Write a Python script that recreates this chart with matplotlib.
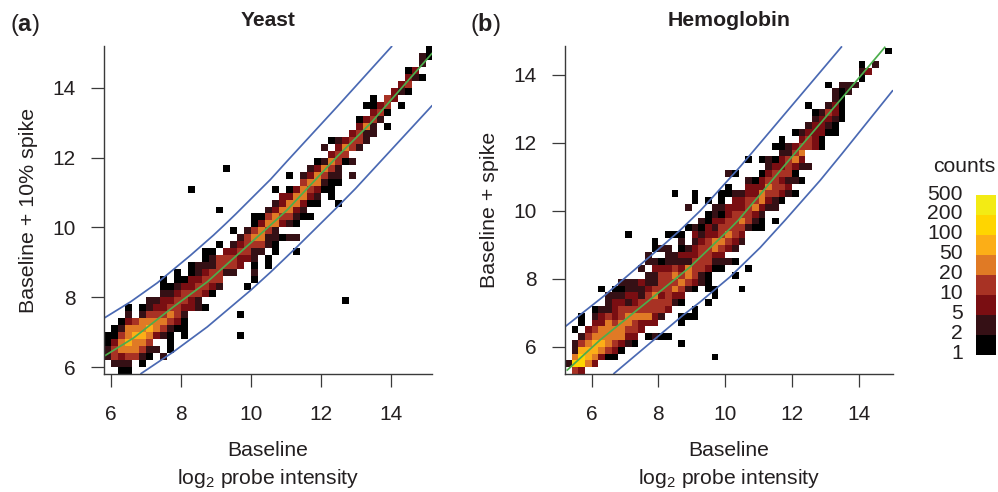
import numpy as np
import matplotlib
matplotlib.use("Agg")
import matplotlib.pyplot as plt
from matplotlib.colors import ListedColormap, BoundaryNorm

plt.rcParams['font.family'] = ['Liberation Sans', 'DejaVu Sans']
plt.rcParams['mathtext.fontset'] = 'custom'
plt.rcParams['mathtext.rm'] = 'Liberation Sans'
plt.rcParams['mathtext.bf'] = 'Liberation Sans:bold'
plt.rcParams['mathtext.default'] = 'regular'

# Binned counts, one entry per row from the bottom. Each cell holds the index of
# the legend band (1 = "1" ... 8 = "200"), "." is an empty bin.
yeast_first_col = [2, 1, 0, 0, 0, 0, 1, 2, 3, 3, 6, 8, 8, 8, 10, 12, 14, 14, 16, 19, 18, 21, 21, 16,
                   24, 25, 12, 28, 26, 17, 30, 32, 31, 32, 35, 36, 36, 38, 37, 38, 41, 42, 43, 43, 45, 45, 46]
yeast_cells = [
    "11", "222.1", "2434421.2", "24555422.1", "1356554..1",
    "1145665321.1.......1", "12555654211", "1345555431",
    "2.2444542.......1", "1.1233443321", "22334432....................1",
    "22344431", "112334432...1", "1.1133444....1", "1.1234422..2",
    "12224443.1.1", "12444332.1", "11.334422.1..1", "1.2344421", "245522122",
    "1.24542", "1355321", "114544211", "1......235532", "2355311..1",
    "335532.1", "1...........1.1354311", "455211", "1.235422.2",
    "1...........23542", "125412", "344", "2.3542", "123442", "3422", "352.1",
    "1342", "341", "1134.1", "1.43", "321", "34", "321", "13", "2", "21", "1",
]

hemo_first_col = [1, 0, 1, 1, 1, 2, 1, 2, 2, 4, 6, 6, 5, 8, 12, 11, 12, 12, 13, 13, 9, 18, 20, 21,
                  18, 19, 16, 24, 27, 24, 30, 27, 32, 31, 32, 34, 36, 37, 37, 36, 40, 40, 39, 44, 44, 44, 0, 48]
hemo_cells = [
    "43", "27753", "5765311..............1", "26665431", "2456654321......1",
    "245555533.1211", "1.345555443", "1.3354554333...1", "1.23434555532..111",
    "122344444443...1", "233234444421...1", "222332453433....1",
    "1.1122234445421.11...1", "22232244454321", "2244545421...1",
    "2.33343544311...1", "22122224442221", "2..223334433", "122.123445432",
    "1...2.23455432", "1.....111.32334543", "121324444211", "2133445421.1",
    "121344432", "2...2233345322", "1.1.1.33445321", "1..1...112233544321",
    "1..3335443", "213443221", "21...134441", "2334322", "1.1213453", "2245",
    "11234431", "1..3431", "1233311", "23321", "23321", "12431", "1..231", "21",
    "212", "1.222", "1", "23", "1.2", "", "1",
]

# Curves.
yeast_fit_x = [5.8, 6.64, 7.79, 8.75, 10.56, 11.03, 12.46, 13.42, 15.18]
yeast_fit_y = [6.31, 6.83, 7.73, 8.44, 10.07, 10.5, 12.03, 12.99, 15.0]
yeast_upper_x = [5.8, 6.56, 7.32, 8.27, 8.93, 9.27, 9.56, 10.56, 11.03, 12.46, 14.03]
yeast_upper_y = [7.4, 7.87, 8.41, 9.2, 9.78, 10.1, 10.38, 11.38, 11.9, 13.46, 15.2]
yeast_lower_x = [6.84, 7.79, 8.75, 9.99, 10.56, 11.32, 12.43, 12.99, 15.18]
yeast_lower_y = [5.8, 6.44, 7.15, 8.2, 8.72, 9.45, 10.55, 11.12, 13.5]

hemo_fit_x = [5.25, 6.25, 7.85, 8.95, 10.15, 10.4, 12.25, 13.45, 14.8]
hemo_fit_y = [5.3, 6.2, 7.47, 8.35, 9.48, 9.73, 11.88, 13.26, 14.83]
hemo_upper_x = [5.2, 6.4, 7.5, 8.2, 8.65, 9.25, 9.55, 10.45, 11.45, 13.5]
hemo_upper_y = [6.59, 7.52, 8.45, 9.04, 9.43, 10.0, 10.32, 11.3, 12.46, 14.84]
hemo_lower_x = [6.65, 8.74, 9.25, 10.15, 11.05, 11.8, 12.85, 13.5, 15.03]
hemo_lower_y = [5.2, 6.93, 7.32, 8.06, 8.92, 9.73, 10.9, 11.68, 13.55]

legend_labels = ["500", "200", "100", "50", "20", "10", "5", "2", "1"]
band_colors = ["#000000", "#351015", "#7A0E12", "#A83224", "#E07A25", "#FCAE17", "#FFD500", "#F3EB14"]

W, H = 998, 492
TXT = "#231f20"
AXC = "#3a3a3a"


def axes_px(fig, left, right, top, bottom):
	return fig.add_axes([left / W, 1 - bottom / H, (right - left) / W, (bottom - top) / H])


def grid_from_rows(first_col, cells, ncols):
	z = np.full((len(cells), ncols), np.nan)
	for r, (start, row) in enumerate(zip(first_col, cells)):
		for i, ch in enumerate(row):
			if ch != ".":
				z[r, start + i] = int(ch)
	return z


def panel(ax, first_col, cells, x0, y0, ncols, xlim, ylim, yticks, curves):
	cmap = ListedColormap(band_colors)
	norm = BoundaryNorm(np.arange(0.5, 9.5), cmap.N)
	z = grid_from_rows(first_col, cells, ncols)
	xedges = x0 + 0.2 * np.arange(ncols + 1)
	yedges = y0 + 0.2 * np.arange(len(cells) + 1)
	ax.pcolormesh(xedges, yedges, np.ma.masked_invalid(z), cmap=cmap, norm=norm, linewidth=0)
	for (cx, cy), col in curves:
		ax.plot(cx, cy, color=col, lw=1.25, solid_capstyle="butt")
	ax.set_xlim(*xlim)
	ax.set_ylim(*ylim)
	for s in ["top", "right"]:
		ax.spines[s].set_visible(False)
	for s in ["left", "bottom"]:
		ax.spines[s].set_color(AXC)
		ax.spines[s].set_linewidth(1.0)
	ax.set_xticks([6, 8, 10, 12, 14])
	ax.set_yticks(yticks)
	ax.tick_params(length=9.5, width=0.9, color=AXC, labelcolor=TXT, labelsize=15)
	ax.tick_params(axis="x", pad=12.5)
	ax.tick_params(axis="y", pad=11)


fig = plt.figure(figsize=(W / 100, H / 100), dpi=100)

BLUE = "#4a69b3"
GREEN = "#4cae4c"

ax1 = axes_px(fig, 104, 432, 46, 374)
panel(ax1, yeast_first_col, yeast_cells, 5.8, 5.8, 47, (5.8, 15.17), (5.8, 15.2), [6, 8, 10, 12, 14],
      [((yeast_upper_x, yeast_upper_y), BLUE), ((yeast_lower_x, yeast_lower_y), BLUE),
       ((yeast_fit_x, yeast_fit_y), GREEN)])

ax2 = axes_px(fig, 565, 893, 46, 374)
panel(ax2, hemo_first_col, hemo_cells, 5.2, 5.2, 49, (5.2, 15.03), (5.2, 14.85), [6, 8, 10, 12, 14],
      [((hemo_upper_x, hemo_upper_y), BLUE), ((hemo_lower_x, hemo_lower_y), BLUE),
       ((hemo_fit_x, hemo_fit_y), GREEN)])


def ftext(x, y, s, **kw):
	kw.setdefault("color", TXT)
	kw.setdefault("ha", "center")
	kw.setdefault("va", "center")
	kw.setdefault("fontsize", 15.2)
	fig.text(x / W, 1 - y / H, s, **kw)


ftext(268, 21, "Yeast", fontweight="bold", fontsize=15)
ftext(729, 21, "Hemoglobin", fontweight="bold", fontsize=15.3)
ftext(10, 25, r"($\mathbf{a}$)", ha="left", fontsize=17)
ftext(470, 25, r"($\mathbf{b}$)", ha="left", fontsize=17)
ftext(29, 210, "Baseline + 10% spike", rotation=90, fontsize=15.4)
ftext(489.5, 210, "Baseline + spike", rotation=90, fontsize=15.4)
ftext(268, 451, "Baseline")
ftext(268, 478, r"log$_2$ probe intensity")
ftext(729, 451, "Baseline")
ftext(729, 478, r"log$_2$ probe intensity")

# Legend: the colour blocks and the labels are spaced differently in the original.
cax = axes_px(fig, 976, 996, 195, 355)
cax.pcolormesh([0, 1], np.arange(9), np.arange(1, 9).reshape(-1, 1),
               cmap=ListedColormap(band_colors), norm=BoundaryNorm(np.arange(0.5, 9.5), 8), linewidth=0)
cax.axis("off")
ftext(995, 167, "counts", ha="right")
for i, lab in enumerate(legend_labels):
	ftext(963, 194 + 19.9 * i, lab, ha="right")

fig.savefig("out.png", dpi=100)
